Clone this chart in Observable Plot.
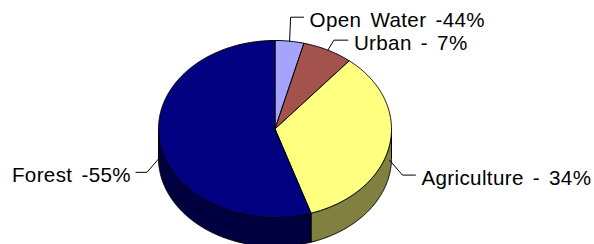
<!DOCTYPE html>
<html><head><meta charset="utf-8">
<script src="https://cdn.jsdelivr.net/npm/d3@7"></script>
<script src="https://cdn.jsdelivr.net/npm/@observablehq/plot@0.6"></script>
<style>
html,body{margin:0;padding:0;background:#fff;}
#chart svg text{letter-spacing:0.35px;word-spacing:3px;}
</style></head><body><div id="chart"></div>
<script>
const categories = ["Open Water", "Urban", "Agriculture", "Forest"];
const values = [4, 7, 34, 55];
const labels = ["Open Water -44%", "Urban - 7%", "Agriculture - 34%", "Forest -55%"];
const topColors = ["#A4A4FC", "#A4524E", "#FFFF80", "#000080"];
const sideColors = ["#5252A0", "#52292A", "#808040", "#000040"];

const W = 594, H = 244;
const geom = {cx: 274.5, cy: 128.5, rx: 116.5, ry: 88.5, depth: 29};
const labelLayout = [
  {dx: 1, dy: -24, len: 13},
  {dx: 6, dy: -10, len: 14},
  {dx: 13, dy: 15, len: 13},
  {dx: -13, dy: 15, len: -11}
];

const total = d3.sum(values);
let acc = 0;
const slices = values.map((v, i) => { const s = acc / total; acc += v; return {i, s, e: acc / total, m: (s + acc / total) / 2}; });
function pt(f, down = 0) { const t = 2 * Math.PI * f; return [geom.cx + geom.rx * Math.sin(t), geom.cy - geom.ry * Math.cos(t) + down]; }
function arc(a, b, down = 0) { const n = Math.max(2, Math.ceil((b - a) * 720)); return d3.range(n + 1).map(k => pt(a + (b - a) * k / n, down)); }

const topPts = [];
slices.forEach(sl => {
  const pts = [[geom.cx, geom.cy], ...arc(sl.s, sl.e), [geom.cx, geom.cy]];
  pts.forEach(([x, y]) => topPts.push({id: "t" + sl.i, x, y, fill: topColors[sl.i]}));
});
const sidePts = [];
slices.forEach(sl => {
  const a = Math.max(sl.s, 0.25), b = Math.min(sl.e, 0.75);
  if (b <= a) return;
  const pts = [...arc(a, b), ...arc(a, b, geom.depth).reverse()];
  pts.push(pts[0]);
  pts.forEach(([x, y]) => sidePts.push({id: "s" + sl.i, x, y, fill: sideColors[sl.i]}));
});

const leaderPts = [];
const labelData = [];
slices.forEach(sl => {
  const t = 2 * Math.PI * sl.m;
  const down = Math.cos(t) < 0 ? geom.depth / 2 : 0;
  const [ax, ay] = pt(sl.m, down);
  const L = labelLayout[sl.i];
  const ex = ax + L.dx, ey = ay + L.dy, hx = ex + L.len;
  [[ax, ay], [ex, ey], [hx, ey]].forEach(([x, y]) => leaderPts.push({id: "l" + sl.i, x, y}));
  labelData.push({x: hx + (L.len > 0 ? 6 : -5), y: ey, text: labels[sl.i], right: L.len > 0});
});

const font = "Liberation Sans, Arial, Helvetica, sans-serif";
const chart = Plot.plot({
  width: W, height: H, margin: 0,
  x: {domain: [0, W], range: [0, W], axis: null},
  y: {domain: [0, H], range: [0, H], axis: null},
  color: {type: "identity"},
  style: {background: "#fff"},
  marks: [
    Plot.line(sidePts, {x: "x", y: "y", z: "id", fill: "fill", stroke: "black", strokeWidth: 1, strokeLinejoin: "round", curve: "linear"}),
    Plot.line(topPts, {x: "x", y: "y", z: "id", fill: "fill", stroke: "black", strokeWidth: 1, strokeLinejoin: "round", curve: "linear"}),
    Plot.line(leaderPts, {x: "x", y: "y", z: "id", stroke: "black", strokeWidth: 1, curve: "linear"}),
    Plot.text(labelData.filter(d => d.right), {x: "x", y: "y", text: "text", textAnchor: "start", lineAnchor: "middle", dy: 3, fontSize: 20.6, fontFamily: font, fill: "black"}),
    Plot.text(labelData.filter(d => !d.right), {x: "x", y: "y", text: "text", textAnchor: "end", lineAnchor: "middle", dy: 3, fontSize: 20.6, fontFamily: font, fill: "black"})
  ]
});
document.getElementById("chart").appendChild(chart);
</script></body></html>
